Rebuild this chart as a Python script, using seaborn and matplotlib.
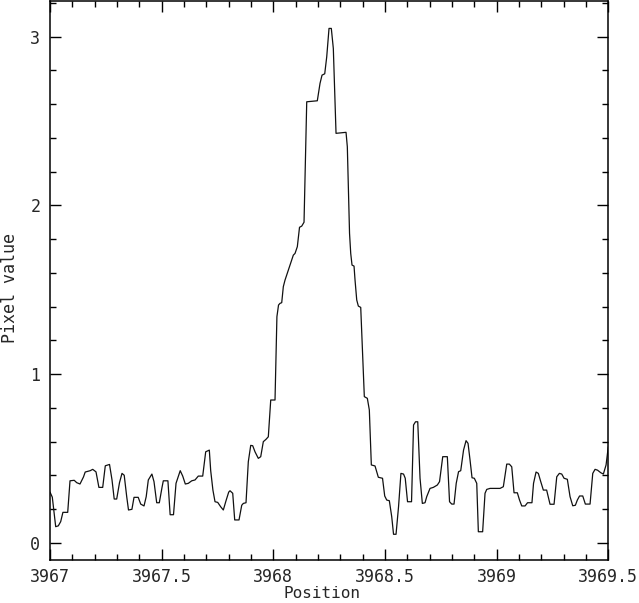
import numpy as np
import pandas as pd
import matplotlib
matplotlib.use("Agg")
import matplotlib.pyplot as plt
from matplotlib.ticker import MultipleLocator, FuncFormatter
import seaborn as sns

# positions are offsets from 3967
x_offset = [
    0.000, 0.0103, 0.0255, 0.0372, 0.0479, 0.0578, 0.0793, 0.0896, 0.1084, 0.1196,
    0.1343, 0.1500, 0.1576, 0.1800, 0.1912, 0.2060, 0.2190, 0.2360, 0.2476, 0.2665,
    0.2777, 0.2875, 0.2987, 0.3112, 0.3224, 0.3323, 0.3435, 0.3515, 0.3668, 0.3762,
    0.3950, 0.4062, 0.4210, 0.4308, 0.4402, 0.4563, 0.4657, 0.4778, 0.4895, 0.5016,
    0.5074, 0.5280, 0.5380, 0.5530, 0.5643, 0.5831, 0.5943, 0.6059, 0.6193, 0.6346,
    0.6493, 0.6641, 0.6838, 0.6972, 0.7134, 0.7196, 0.7295, 0.7389, 0.7510, 0.7644,
    0.7761, 0.7882, 0.8002, 0.8061, 0.8182, 0.8271, 0.8464, 0.8585, 0.8657, 0.8777,
    0.8880, 0.8988, 0.9077, 0.9180, 0.9328, 0.9436, 0.9552, 0.9673, 0.9776, 0.9884,
    1.0076, 1.0161, 1.0233, 1.0300, 1.0376, 1.0448, 1.0524, 1.0600, 1.0748, 1.0896,
    1.0972, 1.1075, 1.1173, 1.1272, 1.1375, 1.1496, 1.1970, 1.2091, 1.2181, 1.2302,
    1.2391, 1.2494, 1.2597, 1.2687, 1.2808, 1.3256, 1.3314, 1.3413, 1.3466, 1.3524,
    1.3614, 1.3659, 1.3735, 1.3807, 1.3914, 1.4075, 1.4210, 1.4299, 1.4389, 1.4554,
    1.4702, 1.4890, 1.4988, 1.5078, 1.5195, 1.5302, 1.5383, 1.5495, 1.5607, 1.5714,
    1.5831, 1.5907, 1.6010, 1.6189, 1.6279, 1.6368, 1.6467, 1.6570, 1.6673, 1.6793,
    1.6869, 1.7017, 1.7165, 1.7344, 1.7443, 1.7586, 1.7792, 1.7891, 1.7989, 1.8092,
    1.8190, 1.8294, 1.8392, 1.8518, 1.8630, 1.8719, 1.8809, 1.8898, 1.9001, 1.9109,
    1.9181, 1.9373, 1.9480, 1.9556, 1.9704, 2.0152, 2.0300, 2.0452, 2.0569, 2.0676,
    2.0779, 2.0927, 2.1025, 2.1124, 2.1272, 2.1384, 2.1581, 2.1652, 2.1765, 2.1867,
    2.1975, 2.2091, 2.2239, 2.2391, 2.2571, 2.2692, 2.2808, 2.2915, 2.3019, 2.3166,
    2.3287, 2.3408, 2.3525, 2.3614, 2.3713, 2.3856, 2.3972, 2.4183, 2.4304, 2.4407,
    2.4519, 2.4662, 2.4779, 2.4900, 2.5000,
]
pixel_value = [
    0.300, 0.270, 0.095, 0.100, 0.125, 0.180, 0.180, 0.367, 0.370, 0.356,
    0.348, 0.390, 0.419, 0.427, 0.435, 0.420, 0.328, 0.328, 0.456, 0.464,
    0.372, 0.259, 0.259, 0.356, 0.411, 0.400, 0.273, 0.194, 0.198, 0.269,
    0.269, 0.229, 0.218, 0.273, 0.372, 0.407, 0.362, 0.237, 0.237, 0.328,
    0.367, 0.367, 0.166, 0.166, 0.352, 0.427, 0.395, 0.348, 0.352, 0.367,
    0.372, 0.395, 0.395, 0.539, 0.549, 0.427, 0.312, 0.243, 0.239, 0.213,
    0.194, 0.249, 0.300, 0.308, 0.293, 0.135, 0.135, 0.222, 0.233, 0.237,
    0.480, 0.577, 0.575, 0.539, 0.500, 0.510, 0.599, 0.613, 0.628, 0.846,
    0.846, 1.340, 1.409, 1.419, 1.423, 1.518, 1.557, 1.587, 1.646, 1.705,
    1.715, 1.755, 1.870, 1.877, 1.900, 2.614, 2.620, 2.723, 2.772, 2.780,
    2.880, 3.049, 3.049, 2.930, 2.427, 2.433, 2.347, 1.834, 1.715, 1.646,
    1.640, 1.557, 1.439, 1.403, 1.395, 0.866, 0.856, 0.787, 0.461, 0.455,
    0.388, 0.382, 0.277, 0.253, 0.249, 0.154, 0.050, 0.050, 0.213, 0.411,
    0.407, 0.382, 0.243, 0.243, 0.698, 0.717, 0.717, 0.382, 0.233, 0.237,
    0.273, 0.322, 0.328, 0.342, 0.362, 0.510, 0.510, 0.243, 0.229, 0.229,
    0.352, 0.421, 0.427, 0.549, 0.605, 0.589, 0.490, 0.385, 0.382, 0.352,
    0.065, 0.065, 0.293, 0.316, 0.322, 0.322, 0.332, 0.466, 0.466, 0.450,
    0.296, 0.296, 0.253, 0.218, 0.218, 0.237, 0.237, 0.352, 0.419, 0.411,
    0.362, 0.312, 0.312, 0.228, 0.228, 0.391, 0.411, 0.407, 0.382, 0.376,
    0.273, 0.219, 0.222, 0.253, 0.277, 0.277, 0.229, 0.229, 0.411, 0.435,
    0.430, 0.415, 0.407, 0.461, 0.569,
]
x_start = 3967.0

df = pd.DataFrame({"Position": np.array(x_offset) + x_start, "Pixel value": pixel_value})

sns.set_style("ticks")
plt.rcParams["font.family"] = ["DejaVu Sans Mono"]

fig = plt.figure(figsize=(6.39, 6.03), dpi=100)
ax = fig.add_axes([50 / 639, 43 / 603, 558.3 / 639, 559.5 / 603])

sns.lineplot(data=df, x="Position", y="Pixel value", ax=ax, color="#111111",
             linewidth=0.9, estimator=None, sort=False)

ax.set_xlim(3967.0, 3969.5)
ax.set_ylim(-0.1025, 3.2145)

ax.xaxis.set_major_locator(MultipleLocator(0.5))
ax.xaxis.set_minor_locator(MultipleLocator(0.1))
ax.yaxis.set_major_locator(MultipleLocator(1))
ax.yaxis.set_minor_locator(MultipleLocator(0.2))
ax.xaxis.set_major_formatter(FuncFormatter(lambda v, p: "%g" % v))
ax.yaxis.set_major_formatter(FuncFormatter(lambda v, p: "%g" % v))

ax.tick_params(which="both", direction="in", top=True, right=True,
               width=1.0, color="black", labelsize=12)
ax.tick_params(which="major", length=7.7, pad=7)
ax.tick_params(axis="x", which="major", pad=6)
ax.tick_params(which="minor", length=4.3)
for s in ax.spines.values():
    s.set_linewidth(1.1)
    s.set_color("black")

ax.set_xlabel("Position", fontsize=11.5, va="baseline")
ax.set_ylabel("Pixel value", fontsize=12)
ax.xaxis.set_label_coords(0.487, -0.0688)
ax.yaxis.set_label_coords(-0.056, 0.486)

fig.savefig("out.png", dpi=100)
